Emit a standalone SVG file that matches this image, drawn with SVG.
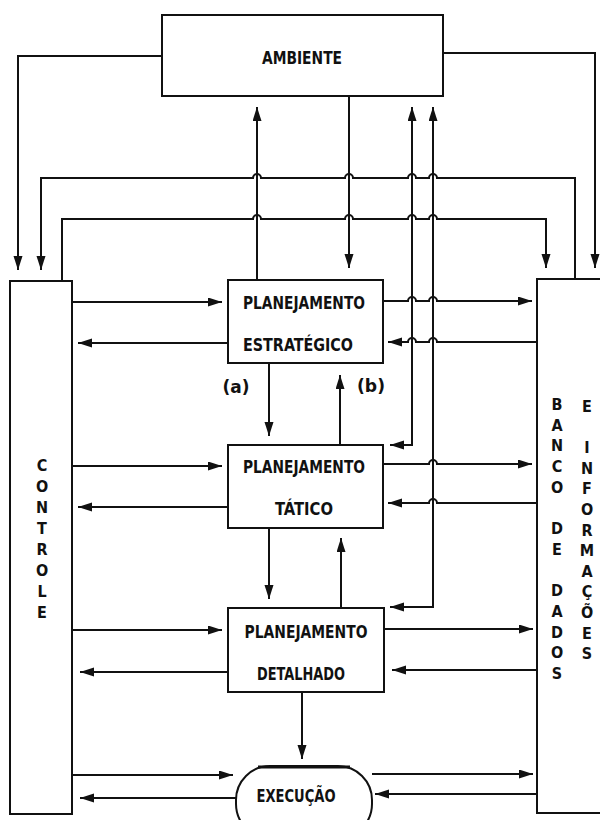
<svg xmlns="http://www.w3.org/2000/svg" width="600" height="820" viewBox="0 0 600 820">
<style>
.box{fill:#fff;stroke:#111;stroke-width:2}
.ln{fill:none;stroke:#111;stroke-width:2}
.arr{marker-end:url(#ah)}
.both{marker-start:url(#ahs);marker-end:url(#ah)}
.t{font-family:"DejaVu Sans Condensed","DejaVu Sans",sans-serif;font-weight:bold;font-size:18px;fill:#111;text-anchor:middle}
.v{font-family:"DejaVu Sans Condensed","DejaVu Sans",sans-serif;font-weight:bold;font-size:16px;fill:#111;text-anchor:middle}
</style>
<defs>
<marker id="ah" markerUnits="userSpaceOnUse" markerWidth="16" markerHeight="10" refX="14" refY="4.5" orient="auto">
<path d="M0,0 L14,4.5 L0,9 z" fill="#111"/>
</marker>
<marker id="ahs" markerUnits="userSpaceOnUse" markerWidth="16" markerHeight="10" refX="14" refY="4.5" orient="auto-start-reverse">
<path d="M0,0 L14,4.5 L0,9 z" fill="#111"/>
</marker>
</defs>
<rect width="600" height="820" fill="#fff"/>

<g id="connectors">
<path class="ln arr" d="M162,56 H18 V270"/>
<path class="ln arr" d="M443,53 H595 V268"/>
<path class="ln arr" d="M575,279 V178 H437 a4,4 0 0 0 -8,0 H416 a4,4 0 0 0 -8,0 H353 a4,4 0 0 0 -8,0 H261 a4,4 0 0 0 -8,0 H41 V270"/>
<path class="ln arr" d="M62,281 V219 H253 a4,4 0 0 1 8,0 H345 a4,4 0 0 1 8,0 H408 a4,4 0 0 1 8,0 H429 a4,4 0 0 1 8,0 H546 V268"/>
<path class="ln arr" d="M257,280 V107"/>
<path class="ln arr" d="M349,96 V268"/>
<path class="ln both" d="M412,107 V445 H390"/>
<path class="ln both" d="M433,107 V607 H390"/>
<path class="ln arr" d="M72,302 H222"/>
<path class="ln arr" d="M228,343 H78"/>
<path class="ln arr" d="M72,466 H222"/>
<path class="ln arr" d="M228,507 H78"/>
<path class="ln arr" d="M72,630 H222"/>
<path class="ln arr" d="M228,672 H80"/>
<path class="ln arr" d="M72,775 H233"/>
<path class="ln arr" d="M238,798 H80"/>
<path class="ln arr" d="M383,301 H408 a4,4 0 0 1 8,0 H429 a4,4 0 0 1 8,0 H532"/>
<path class="ln arr" d="M537,342 H437 a4,4 0 0 0 -8,0 H416 a4,4 0 0 0 -8,0 H388"/>
<path class="ln arr" d="M383,464 H429 a4,4 0 0 1 8,0 H532"/>
<path class="ln arr" d="M537,503 H437 a4,4 0 0 0 -8,0 H388"/>
<path class="ln arr" d="M384,629 H533"/>
<path class="ln arr" d="M537,670 H392"/>
<path class="ln arr" d="M372,774 H533"/>
<path class="ln arr" d="M537,794 H375"/>
<path class="ln arr" d="M269,363 V436"/>
<path class="ln arr" d="M340,445 V375"/>
<path class="ln arr" d="M269,528 V599"/>
<path class="ln arr" d="M341,608 V538"/>
<path class="ln arr" d="M302,692 V759"/>
</g>

<g id="ambiente">
<rect class="box" x="162" y="15" width="281" height="81"/>
<text class="t" x="302" y="64" textLength="80" lengthAdjust="spacingAndGlyphs">AMBIENTE</text>
</g>

<g id="controle">
<rect class="box" x="10" y="281" width="62" height="533"/>
<text class="v"><tspan x="42" y="471">C</tspan><tspan x="42" y="492">O</tspan><tspan x="42" y="513">N</tspan><tspan x="42" y="534">T</tspan><tspan x="42" y="555">R</tspan><tspan x="42" y="576">O</tspan><tspan x="42" y="597">L</tspan><tspan x="42" y="618">E</tspan></text>
</g>

<g id="banco">
<rect class="box" x="537" y="279" width="70" height="534"/>
<text class="v"><tspan x="557" y="410">B</tspan><tspan x="557" y="430.7">A</tspan><tspan x="557" y="451.4">N</tspan><tspan x="557" y="472.1">C</tspan><tspan x="557" y="492.8">O</tspan><tspan x="557" y="534.2">D</tspan><tspan x="557" y="554.9">E</tspan><tspan x="557" y="596.3">D</tspan><tspan x="557" y="617">A</tspan><tspan x="557" y="637.7">D</tspan><tspan x="557" y="658.4">O</tspan><tspan x="557" y="679.1">S</tspan></text>
<text class="v"><tspan x="587" y="412">E</tspan><tspan x="587" y="453.2">I</tspan><tspan x="587" y="473.8">N</tspan><tspan x="587" y="494.4">F</tspan><tspan x="587" y="515">O</tspan><tspan x="587" y="535.6">R</tspan><tspan x="587" y="556.2">M</tspan><tspan x="587" y="576.8">A</tspan><tspan x="587" y="597.4">Ç</tspan><tspan x="587" y="618">Õ</tspan><tspan x="587" y="638.6">E</tspan><tspan x="587" y="659.2">S</tspan></text>
</g>

<g id="estrategico">
<rect class="box" x="228" y="280" width="155" height="83"/>
<text class="t" x="304" y="309" textLength="122" lengthAdjust="spacingAndGlyphs">PLANEJAMENTO</text>
<text class="t" x="298" y="351" textLength="110" lengthAdjust="spacingAndGlyphs">ESTRATÉGICO</text>
</g>

<g id="tatico">
<rect class="box" x="228" y="445" width="155" height="83"/>
<text class="t" x="304" y="473" textLength="122" lengthAdjust="spacingAndGlyphs">PLANEJAMENTO</text>
<text class="t" x="304" y="515" textLength="58" lengthAdjust="spacingAndGlyphs">TÁTICO</text>
</g>

<g id="detalhado">
<rect class="box" x="228" y="608" width="156" height="84"/>
<text class="t" x="306" y="638" textLength="123" lengthAdjust="spacingAndGlyphs">PLANEJAMENTO</text>
<text class="t" x="301" y="680" textLength="88" lengthAdjust="spacingAndGlyphs">DETALHADO</text>
</g>

<g id="execucao">
<rect class="box" x="236" y="766" width="136" height="72" rx="34" ry="34"/>
<line x1="258" y1="767" x2="350" y2="767" stroke="#111" stroke-width="3"/>
<text class="t" x="296" y="802" textLength="79" lengthAdjust="spacingAndGlyphs">EXECUÇÃO</text>
</g>

<g id="labels">
<text class="t" x="236" y="393" textLength="27" lengthAdjust="spacingAndGlyphs">(a)</text>
<text class="t" x="371" y="392" textLength="28" lengthAdjust="spacingAndGlyphs">(b)</text>
</g>
</svg>
